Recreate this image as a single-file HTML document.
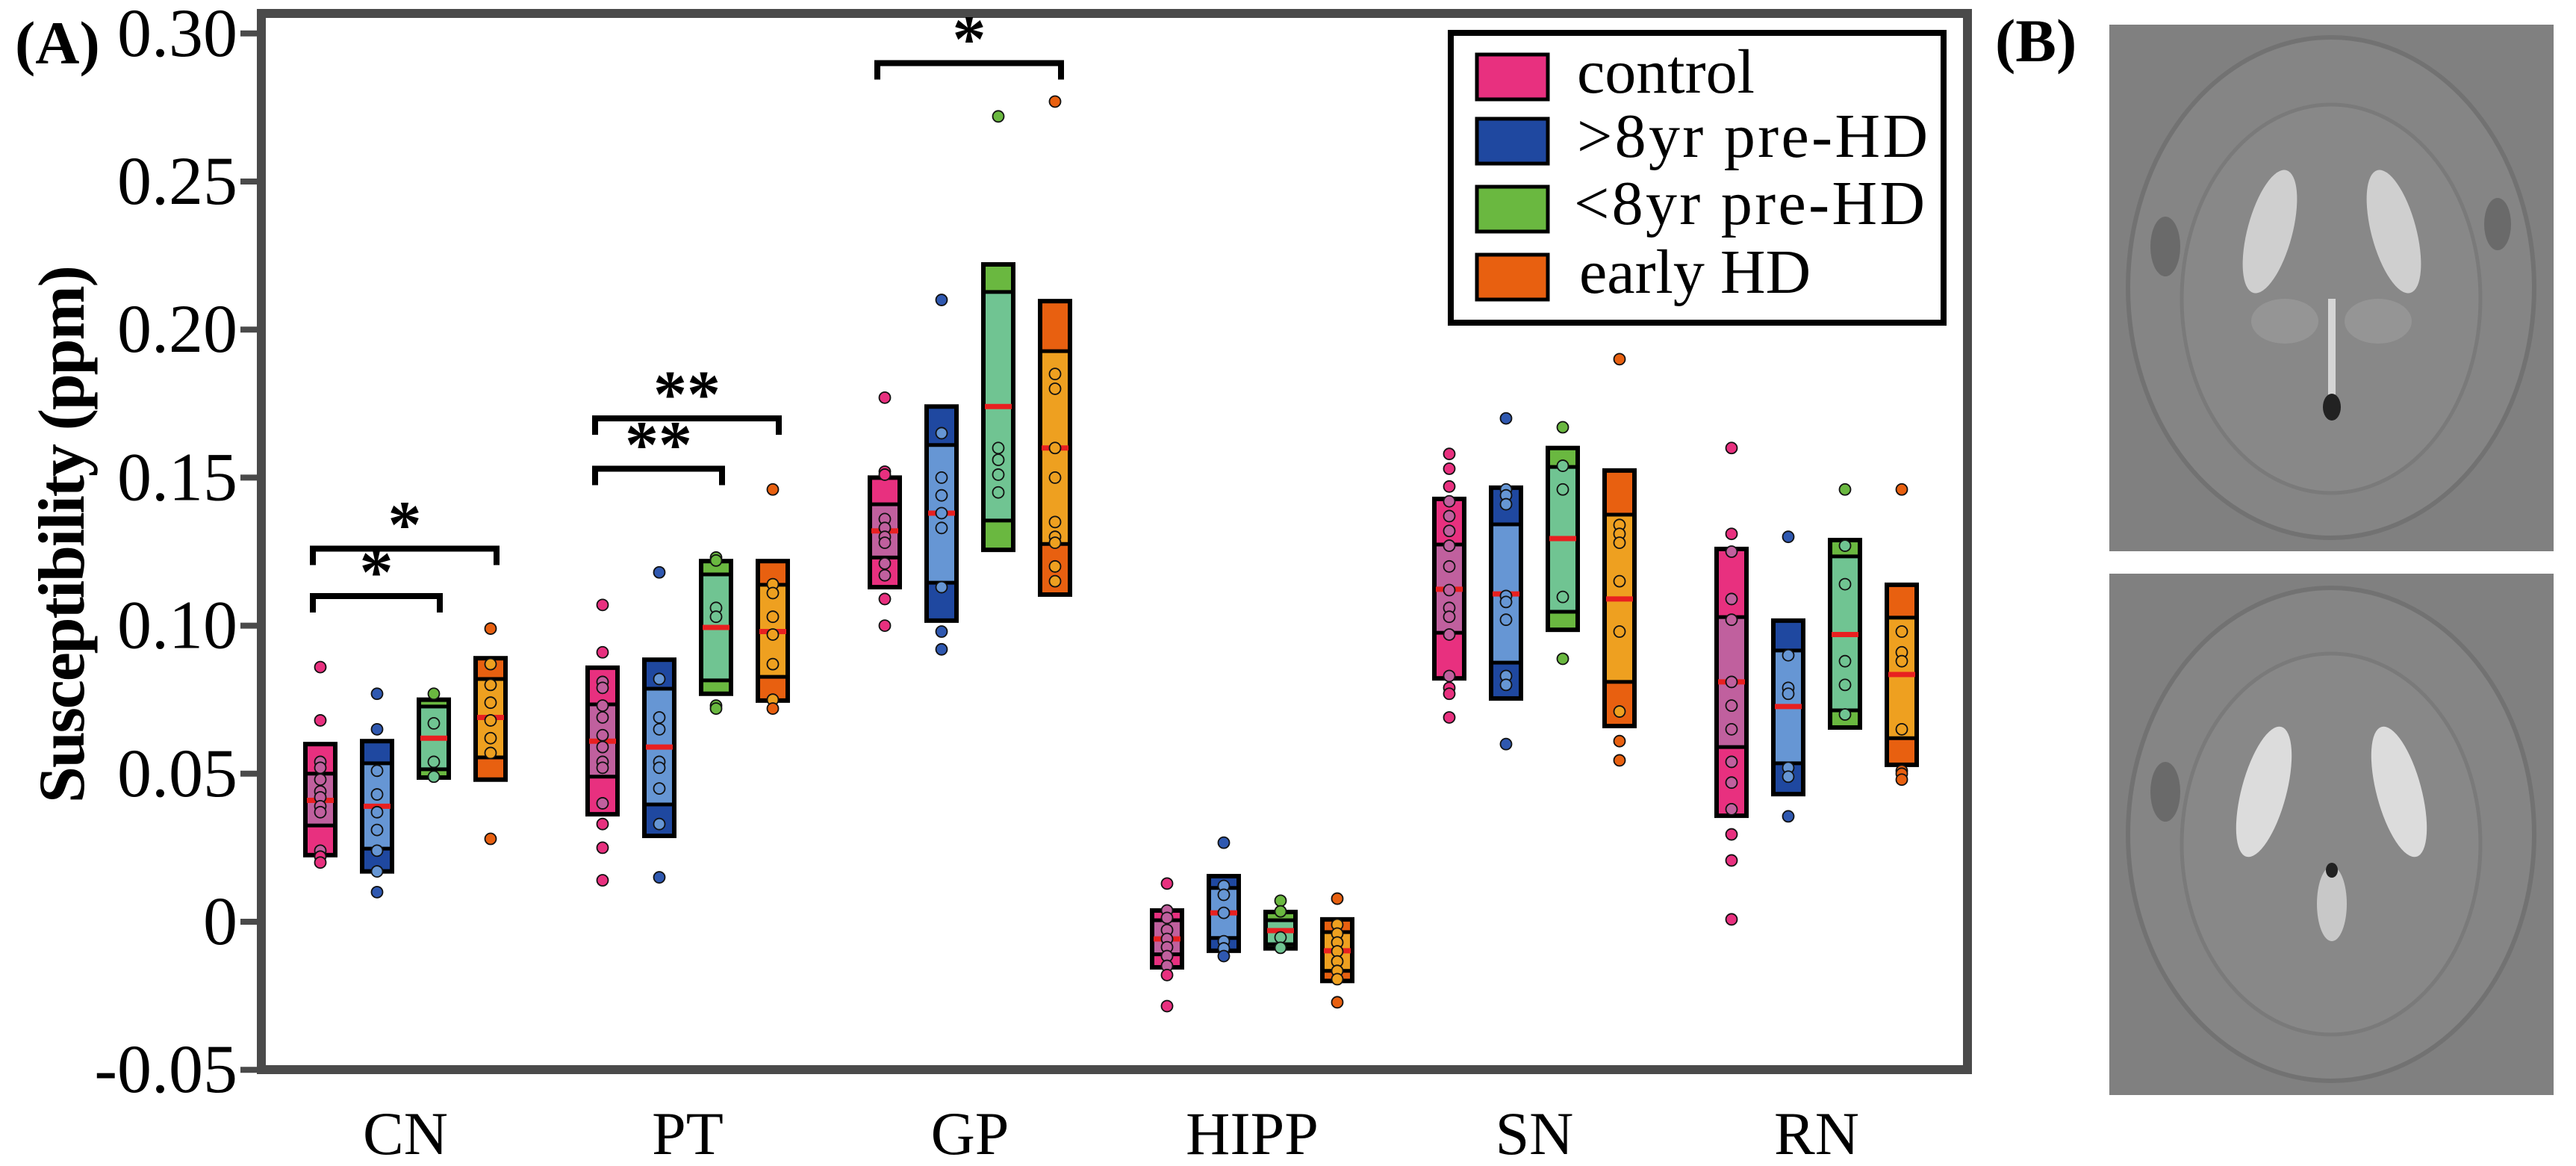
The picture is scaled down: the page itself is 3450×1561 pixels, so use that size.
<!DOCTYPE html>
<html><head><meta charset="utf-8"><style>
html,body{margin:0;padding:0;background:#fff;}
svg{display:block;}
text{font-family:"Liberation Serif",serif;}
</style></head><body>
<svg id="chart" width="3450" height="1561" viewBox="0 0 3450 1561" xmlns="http://www.w3.org/2000/svg">
<text x="20" y="85" font-size="82" font-weight="bold">(A)</text>
<text x="2672" y="82" font-size="82" font-weight="bold">(B)</text>
<text transform="translate(112,715) rotate(-90)" text-anchor="middle" font-size="88" font-weight="bold" textLength="720">Susceptibility (ppm)</text>
<g id="plot"></g>
<rect x="350" y="18" width="2285" height="1414" fill="none" stroke="#4a4a4a" stroke-width="12"/>
<g>
<rect x="1943" y="44" width="660" height="388" fill="#fff" stroke="#000" stroke-width="8"/>
<rect x="1978" y="73" width="95" height="60" fill="#e8307f" stroke="#000" stroke-width="5"/>
<text x="2112" y="124" font-size="84">control</text>
<rect x="1978" y="159" width="95" height="60" fill="#1f48a0" stroke="#000" stroke-width="5"/>
<text x="2112" y="210" font-size="84" textLength="470">&gt;8yr pre-HD</text>
<rect x="1978" y="250" width="95" height="60" fill="#6ab840" stroke="#000" stroke-width="5"/>
<text x="2108" y="300" font-size="84" textLength="470">&lt;8yr pre-HD</text>
<rect x="1978" y="341" width="95" height="60" fill="#e86010" stroke="#000" stroke-width="5"/>
<text x="2115" y="392" font-size="84">early HD</text>
</g>
<g>
<rect x="2825" y="33" width="595" height="705" fill="#808080"/>
<ellipse cx="3122" cy="385" rx="272" ry="335" fill="#858585" stroke="#727272" stroke-width="6"/>
<ellipse cx="3122" cy="400" rx="200" ry="260" fill="#888" stroke="#7a7a7a" stroke-width="5"/>
<ellipse cx="3040" cy="310" rx="30" ry="85" fill="#cfcfcf" transform="rotate(15 3040 310)"/>
<ellipse cx="3206" cy="310" rx="30" ry="85" fill="#cfcfcf" transform="rotate(-15 3206 310)"/>
<ellipse cx="3060" cy="430" rx="45" ry="30" fill="#959595"/>
<ellipse cx="3185" cy="430" rx="45" ry="30" fill="#959595"/>
<rect x="3118" y="400" width="10" height="140" fill="#d5d5d5"/>
<ellipse cx="3123" cy="545" rx="12" ry="18" fill="#222"/>
<ellipse cx="2900" cy="330" rx="20" ry="40" fill="#6a6a6a"/>
<ellipse cx="3345" cy="300" rx="18" ry="35" fill="#6a6a6a"/>
</g>
<g>
<rect x="2825" y="768" width="595" height="698" fill="#808080"/>
<ellipse cx="3122" cy="1117" rx="272" ry="330" fill="#858585" stroke="#727272" stroke-width="6"/>
<ellipse cx="3122" cy="1130" rx="200" ry="255" fill="#888" stroke="#7a7a7a" stroke-width="5"/>
<ellipse cx="3032" cy="1060" rx="30" ry="90" fill="#dcdcdc" transform="rotate(15 3032 1060)"/>
<ellipse cx="3213" cy="1060" rx="30" ry="90" fill="#dcdcdc" transform="rotate(-15 3213 1060)"/>
<ellipse cx="3123" cy="1210" rx="20" ry="50" fill="#c8c8c8"/>
<ellipse cx="3123" cy="1165" rx="8" ry="10" fill="#222"/>
<ellipse cx="2900" cy="1060" rx="20" ry="40" fill="#6a6a6a"/>
</g>
</svg>
<script>
const categories = ["CN","PT","GP","HIPP","SN","RN"];
const groups = ["control","gt8yr","lt8yr","earlyHD"];
const yTicks = [-0.05,0,0.05,0.10,0.15,0.20,0.25,0.30];
const yTickLabels = ["-0.05","0","0.05","0.10","0.15","0.20","0.25","0.30"];
// [low, q1, median, q3, high] per category, per group
const boxControl = [[0.0225,0.0325,0.041,0.050,0.060],[0.0363,0.049,0.061,0.0734,0.0858],[0.113,0.123,0.132,0.141,0.150],[-0.0154,-0.011,-0.0058,0.0005,0.0038],[0.0822,0.0976,0.1123,0.1274,0.1428],[0.0358,0.059,0.081,0.1029,0.1259]];
const boxGt8 = [[0.017,0.0247,0.039,0.0535,0.061],[0.029,0.0396,0.059,0.0787,0.0885],[0.1017,0.1145,0.138,0.161,0.174],[-0.0098,-0.0055,0.003,0.0114,0.0154],[0.0754,0.0875,0.1107,0.1342,0.1466],[0.0431,0.0535,0.0727,0.0916,0.1017]];
const boxLt8 = [[0.0487,0.0515,0.062,0.0727,0.075],[0.077,0.0815,0.0994,0.1173,0.1218],[0.1256,0.1355,0.174,0.2127,0.222],[-0.009,-0.0076,-0.003,0.0005,0.0033],[0.0986,0.1047,0.1294,0.1536,0.160],[0.0656,0.0714,0.097,0.1234,0.1289]];
const boxEarly = [[0.048,0.0555,0.069,0.082,0.089],[0.0747,0.0827,0.098,0.1138,0.1218],[0.1105,0.1276,0.160,0.1927,0.2096],[-0.020,-0.0166,-0.0098,-0.0035,0.0008],[0.0661,0.081,0.109,0.1375,0.1524],[0.053,0.062,0.0835,0.1027,0.1138]];
const ptsControl = [[0.086,0.068,0.054,0.052,0.048,0.044,0.042,0.039,0.037,0.024,0.022,0.020],[0.107,0.091,0.081,0.079,0.073,0.069,0.063,0.059,0.054,0.052,0.040,0.033,0.025,0.014],[0.177,0.152,0.151,0.136,0.133,0.130,0.128,0.121,0.117,0.109,0.100],[0.0129,0.0038,0.0013,-0.0028,-0.0058,-0.0086,-0.0116,-0.0149,-0.018,-0.0285],[0.158,0.153,0.147,0.142,0.137,0.132,0.127,0.120,0.112,0.106,0.103,0.097,0.083,0.079,0.077,0.069],[0.160,0.131,0.125,0.109,0.102,0.081,0.073,0.065,0.054,0.047,0.038,0.0295,0.0207,0.0008]];
const ptsGt8 = [[0.077,0.065,0.051,0.043,0.037,0.031,0.024,0.017,0.010],[0.118,0.082,0.069,0.065,0.054,0.052,0.045,0.033,0.015],[0.210,0.165,0.150,0.144,0.138,0.133,0.113,0.098,0.092],[0.0267,0.0121,0.0091,0.003,-0.0066,-0.009,-0.0116],[0.170,0.146,0.144,0.141,0.110,0.108,0.102,0.083,0.080,0.060],[0.130,0.090,0.079,0.077,0.052,0.049,0.0356]];
const ptsLt8 = [[0.077,0.067,0.054,0.049],[0.123,0.122,0.106,0.103,0.073,0.072],[0.272,0.160,0.156,0.151,0.145],[0.0071,0.0035,-0.0053,-0.0088],[0.167,0.154,0.146,0.1097,0.0888],[0.146,0.127,0.114,0.088,0.080,0.070]];
const ptsEarly = [[0.099,0.087,0.080,0.074,0.068,0.062,0.057,0.028],[0.146,0.114,0.111,0.103,0.097,0.087,0.075,0.072],[0.277,0.185,0.180,0.160,0.150,0.135,0.130,0.128,0.120,0.115],[0.0078,-0.001,-0.004,-0.007,-0.010,-0.0134,-0.0166,-0.0194,-0.0272],[0.190,0.134,0.131,0.128,0.115,0.098,0.071,0.061,0.0545],[0.146,0.098,0.091,0.088,0.065,0.051,0.050,0.048]];
// significance brackets
const sigCat = [0,0,1,1,2];
const sigFrom = [0,0,0,0,0];
const sigTo = [3,2,3,2,3];
const sigLevel = [0.126,0.110,0.170,0.153,0.290];
const sigLabel = ["*","*","**","**","*"];

const boxes = [boxControl,boxGt8,boxLt8,boxEarly];
const pts = [ptsControl,ptsGt8,ptsLt8,ptsEarly];
const darkCol = ["#e8307f","#1f48a0","#6ab840","#e86010"];
const lightCol = ["#c0609e","#6696d4","#70c492","#eea020"];
const dotCol = ["#e8307f","#2f58b0","#6ab840","#e86010"];
const NS = "http://www.w3.org/2000/svg";
function yS(v){ return 1234 - v*3964; }
function xS(c,g){ return 429 + 378*c + 76*g; }
function el(tag, attrs, parent){
  const e = document.createElementNS(NS, tag);
  for (const k in attrs) e.setAttribute(k, attrs[k]);
  parent.appendChild(e);
  return e;
}
const svg = document.getElementById('chart');
const plot = document.getElementById('plot');
yTicks.forEach((t,i)=>{
  const y = yS(t);
  const ln = el('line',{x1:322,x2:350,y1:y,y2:y,stroke:'#4a4a4a','stroke-width':8},svg);
  
  
  const tx = el('text',{x:318,y:y+30,'text-anchor':'end','font-size':92},svg);
  
  
  tx.textContent = yTickLabels[i];
});
categories.forEach((c,i)=>{
  const tx = el('text',{x:xS(i,1.5),y:1545,'text-anchor':'middle','font-size':82},svg);
  
  
  tx.textContent = c;
});
const hw = 20;
for (let g=0; g<4; g++){
  for (let c=0; c<categories.length; c++){
    const b = boxes[g][c];
    const x = xS(c,g);
    const grp = el('g',{},plot);
    
    
    el('rect',{x:x-hw,y:yS(b[4]),width:2*hw,height:yS(b[0])-yS(b[4]),fill:darkCol[g]},grp);
    el('rect',{x:x-hw,y:yS(b[3]),width:2*hw,height:yS(b[1])-yS(b[3]),fill:lightCol[g]},grp);
    el('line',{x1:x-hw,x2:x+hw,y1:yS(b[3]),y2:yS(b[3]),stroke:'#000','stroke-width':5},grp);
    el('line',{x1:x-hw,x2:x+hw,y1:yS(b[1]),y2:yS(b[1]),stroke:'#000','stroke-width':5},grp);
    el('rect',{x:x-hw,y:yS(b[4]),width:2*hw,height:yS(b[0])-yS(b[4]),fill:'none',stroke:'#000','stroke-width':6},grp);
    el('line',{x1:x-hw+2,x2:x+hw-2,y1:yS(b[2]),y2:yS(b[2]),stroke:'#e82020','stroke-width':7},grp);
    pts[g][c].forEach(v=>{
      const inside = v<=b[4] && v>=b[0];
      const d = el('circle',{cx:x,cy:yS(v),r:7.5,fill:inside?lightCol[g]:dotCol[g],stroke:'#111','stroke-width':1.8},grp);
      
      
    });
  }
}
sigCat.forEach((c,i)=>{
  const x1 = xS(c,sigFrom[i]) - 10, x2 = xS(c,sigTo[i]) + 8;
  const y = yS(sigLevel[i]);
  const g = el('g',{},svg);
  
  
  el('path',{d:`M${x1},${y+22} L${x1},${y} L${x2},${y} L${x2},${y+22}`,fill:'none',stroke:'#000','stroke-width':8},g);
  const t = el('text',{x:(x1+x2)/2,y:y-2,'text-anchor':'middle','font-size':90,'font-weight':'bold'},g);
  t.textContent = sigLabel[i];
});
</script>
</body></html>
